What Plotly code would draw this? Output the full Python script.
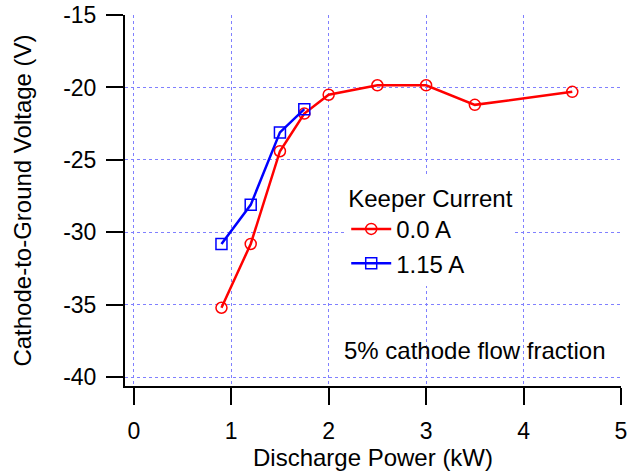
import plotly.graph_objects as go

power_0A = [0.9, 1.2, 1.5, 1.75, 2.0, 2.5, 3.0, 3.5, 4.5]
volt_0A = [-35.2, -30.8, -24.4, -21.8, -20.5, -19.85, -19.85, -21.2, -20.3]
power_115A = [0.9, 1.2, 1.5, 1.75]
volt_115A = [-30.8, -28.1, -23.1, -21.5]
x_ticks = [0, 1, 2, 3, 4, 5]
y_ticks = [-40, -35, -30, -25, -20, -15]

FONT = "Liberation Sans, Arial, sans-serif"
GRID = "#8080ff"
FS = 24
TFS = 23

fig = go.Figure()
fig.add_trace(go.Scatter(x=power_0A, y=volt_0A, mode="lines+markers", name="0.0 A",
                         line=dict(color="#ff0000", width=2.5),
                         marker=dict(symbol="circle-open", size=11, color="#ff0000",
                                     line=dict(width=1.5))))
fig.add_trace(go.Scatter(x=power_115A, y=volt_115A, mode="lines+markers", name="1.15 A",
                         line=dict(color="#0000ff", width=2.5),
                         marker=dict(symbol="square-open", size=11, color="#0000ff",
                                     line=dict(width=1.5))))

fig.add_annotation(x=4.86, y=-38.15, xref="x", yref="y", text="5% cathode flow fraction",
                   showarrow=False, xanchor="right", yanchor="middle",
                   font=dict(size=FS, color="black", family=FONT))

fig.update_layout(
    width=629, height=474,
    margin=dict(l=125, r=8, t=15, b=88),
    paper_bgcolor="white", plot_bgcolor="white",
    font=dict(family=FONT, size=FS, color="black"),
    showlegend=True,
    legend=dict(title=dict(text="Keeper Current", font=dict(size=FS)),
                x=0.446, y=0.567, xanchor="left", yanchor="top",
                bgcolor="white", borderwidth=0, font=dict(size=FS),
                tracegroupgap=0, itemwidth=40),
    xaxis=dict(range=[-0.09, 5.0], tickvals=x_ticks, ticktext=[str(v) for v in x_ticks],
               showline=True, linecolor="black", linewidth=2,
               ticks="outside", ticklen=17, tickwidth=2, tickcolor="black",
               ticklabelstandoff=6, automargin=False,
               showgrid=True, gridcolor=GRID, gridwidth=1, griddash="dot",
               zeroline=False,
               title=dict(text="Discharge Power (kW)", font=dict(size=FS), standoff=7),
               tickfont=dict(size=TFS)),
    yaxis=dict(range=[-40.6, -15.0], tickvals=y_ticks, ticktext=[str(v) for v in y_ticks],
               showline=True, linecolor="black", linewidth=2,
               ticks="outside", ticklen=17, tickwidth=2, tickcolor="black",
               ticklabelstandoff=5, automargin=False,
               showgrid=True, gridcolor=GRID, gridwidth=1, griddash="dot",
               zeroline=False,
               title=dict(text="Cathode-to-Ground Voltage (V)", font=dict(size=FS), standoff=25),
               tickfont=dict(size=TFS)),
)

fig.write_html("out.html")
